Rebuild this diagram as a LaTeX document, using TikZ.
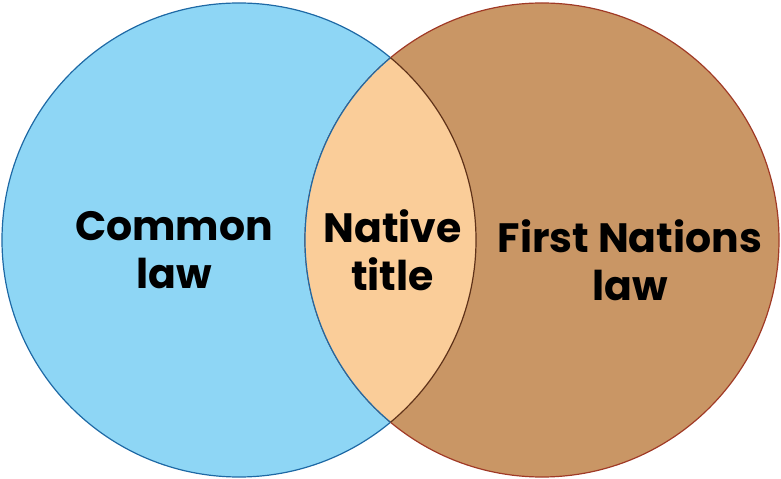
\documentclass[tikz,border=0pt]{standalone}
\usepackage{fontspec}
\setmainfont{Poppins}
\definecolor{lawblue}{RGB}{142,214,245}
\definecolor{lawbluedark}{RGB}{30,105,165}
\definecolor{fnbrown}{RGB}{201,150,101}
\definecolor{fnbrowndark}{RGB}{160,58,38}
\definecolor{lenspeach}{RGB}{250,205,153}
\definecolor{lensedge}{RGB}{95,50,25}
\begin{document}
\begin{tikzpicture}[x=1bp,y=-1bp,
  venn/.style={line width=1.2bp},
  label/.style={font=\fontsize{41bp}{48bp}\selectfont\bfseries, align=center, text=black, inner sep=0pt}]
\useasboundingbox (0,0) rectangle (781,479);
\coordinate (cl) at (239,240);
\coordinate (fn) at (542,240);
% the two sets
\filldraw[venn, fill=lawblue, draw=lawbluedark] (cl) circle[radius=237];
\filldraw[venn, fill=fnbrown, draw=fnbrowndark] (fn) circle[radius=237];
% overlap
\begin{scope}
  \clip (cl) circle[radius=237];
  \fill[lenspeach] (fn) circle[radius=237];
  \draw[venn, lawbluedark] (fn) circle[radius=237];
\end{scope}
\begin{scope}
  \clip (fn) circle[radius=237];
  \draw[venn, lensedge] (cl) circle[radius=237];
\end{scope}
% labels
\node[label] (common) at (174,250) {Common\\law};
\node[label] (native) at (392.5,250) {Native\\title};
\node[label] (first) at (630,260) {First Nations\\law};
\end{tikzpicture}
\end{document}
